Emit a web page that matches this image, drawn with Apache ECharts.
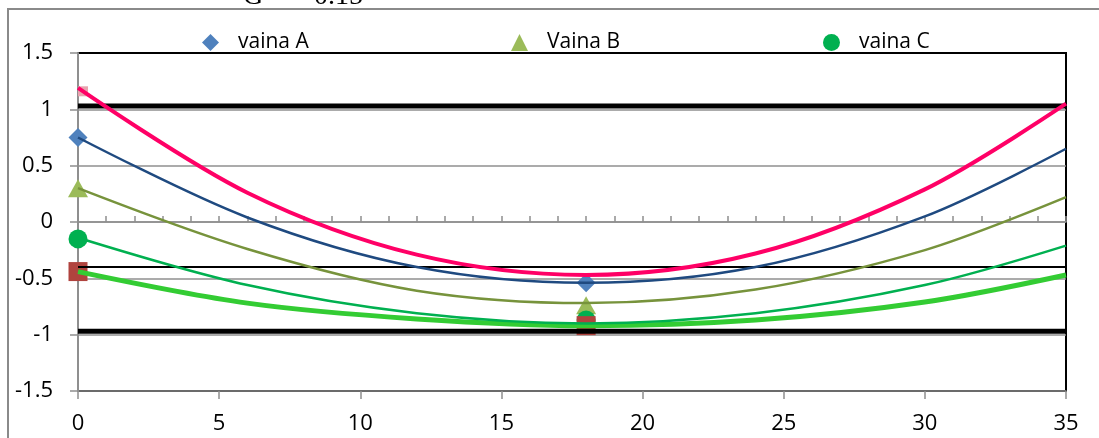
<!DOCTYPE html>
<html>
<head>
<meta charset="utf-8">
<script src="https://cdn.jsdelivr.net/npm/echarts@6/dist/echarts.min.js"></script>
<style>
  html, body { margin: 0; padding: 0; background: #fff; }
  #main { width: 1099px; height: 438px; }
</style>
</head>
<body>
<div id="main"></div>
<script>
// marker points (x = 0 and x = 18)
var markX = [0, 18];
var vainaA = [0.75, -0.54];
var vainaB = [0.30, -0.74];
var vainaC = [-0.15, -0.87];
var redSquare = [-0.44, -0.92];
var pinkSquare = [1.16];

// curves
var curveX = [0, 6, 12, 18, 24, 30, 35];
var pinkCurve = [1.19, 0.26, -0.29, -0.47, -0.28, 0.29, 1.05];
var blueCurve = [0.75, 0.04, -0.40, -0.54, -0.40, 0.05, 0.65];
var oliveCurve = [0.30, -0.24, -0.61, -0.72, -0.60, -0.25, 0.22];
var greenCurve = [-0.14, -0.56, -0.81, -0.90, -0.81, -0.56, -0.21];
var lightGreenCurve = [-0.44, -0.72, -0.86, -0.92, -0.87, -0.71, -0.47];

// horizontal black limit lines
var limitValues = [1.03, -0.40, -0.97];
var limitWidths = [5, 2, 5];

var xMin = 0, xMax = 35;
var font = 'Open Sans';
var gridGray = '#8f8f8f';

function pairs(xs, ys) {
    return ys.map(function (y, i) { return [xs[i], y]; });
}

var myChart = echarts.init(document.getElementById('main'));

var series = [];

// markers (drawn behind the curves)
series.push({ name: 'vaina A', type: 'scatter', symbol: 'diamond', symbolSize: [19, 19],
    itemStyle: { color: '#4F81BD', opacity: 1 }, data: pairs(markX, vainaA), z: 1, clip: false });
series.push({ name: 'Vaina B', type: 'scatter', symbol: 'triangle', symbolSize: [20, 18],
    itemStyle: { color: '#9BBB59', opacity: 1 }, data: pairs(markX, vainaB), z: 1, clip: false });
series.push({ name: 'vaina C', type: 'scatter', symbol: 'circle', symbolSize: 19,
    itemStyle: { color: '#00B050', opacity: 1 }, data: pairs(markX, vainaC), z: 1, clip: false });
series.push({ name: 'sq', type: 'scatter', symbol: 'rect', symbolSize: 19,
    itemStyle: { color: '#B0433E', opacity: 1 }, data: pairs(markX, redSquare), z: 1, clip: false });
series.push({ name: 'sq2', type: 'scatter', symbol: 'rect', symbolSize: 10, symbolOffset: [5, 0],
    itemStyle: { color: '#E8A3AE', opacity: 1 }, data: pairs(markX, pinkSquare), z: 1, clip: false });

// curves
var curves = [
    { data: lightGreenCurve, color: '#33CC33', width: 5 },
    { data: greenCurve, color: '#00B050', width: 2.5 },
    { data: oliveCurve, color: '#77933C', width: 2.5 },
    { data: blueCurve, color: '#1F4A80', width: 2.5 },
    { data: pinkCurve, color: '#FF0066', width: 4 }
];
curves.forEach(function (c) {
    series.push({ type: 'line', smooth: 0.33, showSymbol: false, silent: true,
        data: pairs(curveX, c.data), lineStyle: { color: c.color, width: c.width }, z: 4 });
});

// limit lines
limitValues.forEach(function (v, i) {
    series.push({ type: 'line', showSymbol: false, silent: true,
        data: [[xMin, v], [xMax, v]], lineStyle: { color: '#000', width: limitWidths[i] }, z: 3 });
});

function legendAt(left, name) {
    return {
        data: [name], left: left, top: 32, padding: 0,
        itemWidth: 17, itemHeight: 17,
        textStyle: { fontFamily: font, fontSize: 21, color: '#000', padding: [0, 0, 0, 14] }
    };
}

var option = {
    animation: false,
    backgroundColor: '#fff',
    graphic: [
        { type: 'rect', shape: { x: 8, y: 9, width: 1200, height: 500 },
          style: { fill: 'none', stroke: '#8a8a8a', lineWidth: 2 } },
        { type: 'text', left: 243, top: -17,
          style: { text: 'G    = 0.15', font: '28px "Liberation Serif"', fill: '#000' } }
    ],
    legend: [legendAt(202, 'vaina A'), legendAt(511, 'Vaina B'), legendAt(823, 'vaina C')],
    grid: { left: 78, right: 33, top: 53, bottom: 47, show: true, borderColor: '#000', borderWidth: 2 },
    xAxis: [
        { type: 'value', min: xMin, max: xMax, interval: 5, position: 'bottom',
          axisLine: { show: false, onZero: false }, axisTick: { show: false }, splitLine: { show: false },
          axisLabel: { margin: 22, fontFamily: font, fontSize: 22, color: '#000' } },
        { type: 'value', min: xMin, max: xMax, interval: 5, position: 'bottom',
          axisLine: { onZero: true, lineStyle: { color: gridGray, width: 1.5 } },
          axisTick: { inside: true, length: 6, lineStyle: { color: gridGray, width: 1.5 } },
          minorTick: { show: true, splitNumber: 5, length: 6, lineStyle: { color: gridGray, width: 1.5 } },
          axisLabel: { show: false }, splitLine: { show: false } },
        { type: 'value', min: xMin, max: xMax, interval: 5, position: 'bottom',
          axisLine: { onZero: true, lineStyle: { color: gridGray, width: 1.5 } },
          axisTick: { inside: false, length: 8, lineStyle: { color: gridGray, width: 1.5 } },
          axisLabel: { show: false }, splitLine: { show: false } }
    ],
    yAxis: {
        type: 'value', min: -1.5, max: 1.5, interval: 0.5,
        axisLine: { show: true, onZero: false, lineStyle: { color: gridGray, width: 2 } },
        axisTick: { show: true, length: 8, lineStyle: { color: gridGray, width: 1.5 } },
        axisLabel: { margin: 25, fontFamily: font, fontSize: 22, color: '#000' },
        splitLine: { show: true, showMinLine: false, showMaxLine: false,
            lineStyle: { color: gridGray, width: 1.5 } }
    },
    series: series
};

myChart.setOption(option);
</script>
</body>
</html>
